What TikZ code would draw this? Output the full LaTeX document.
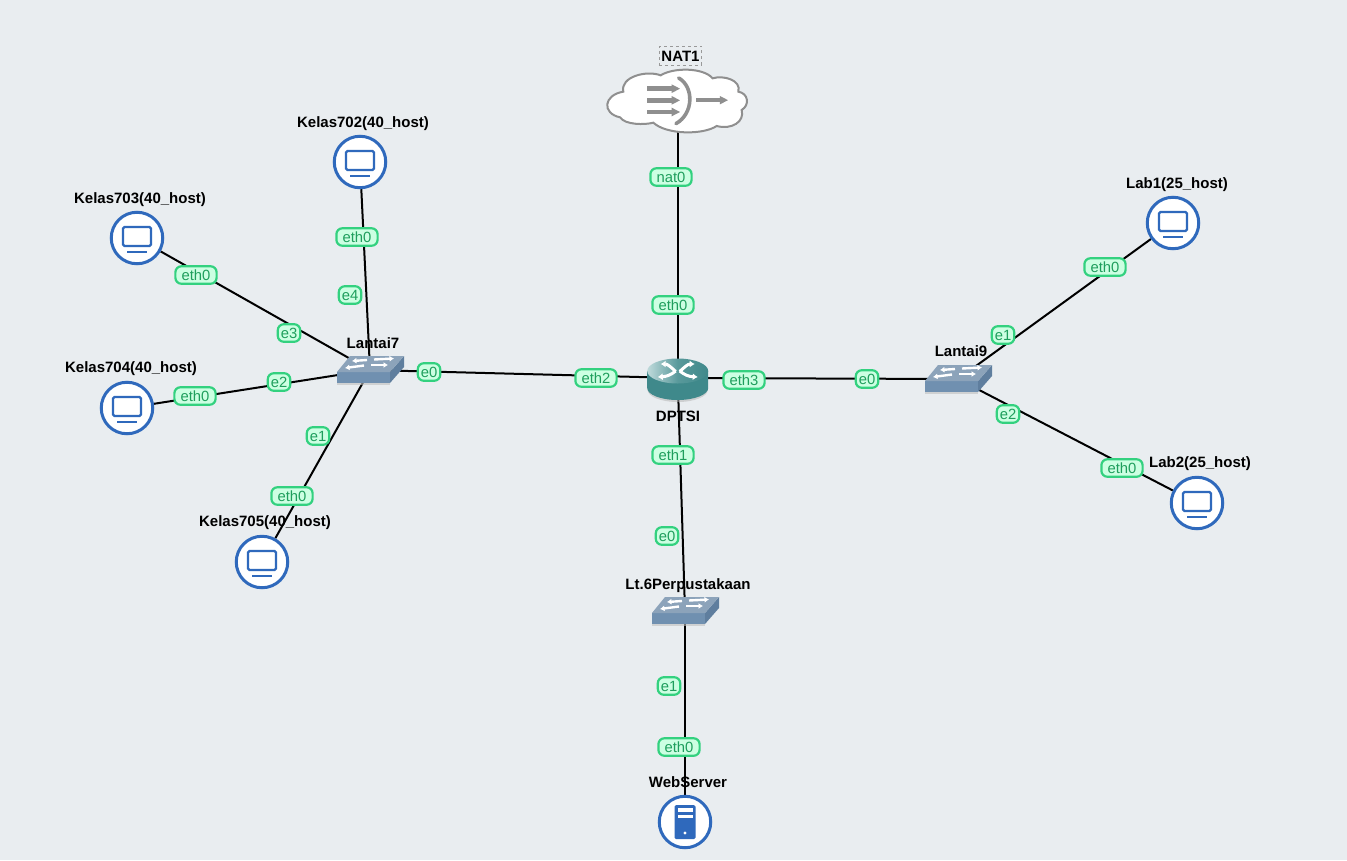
\documentclass[tikz,border=0pt]{standalone}
\usepackage{fontspec}
\setmainfont{Liberation Sans}
\usetikzlibrary{calc,shadings,arrows.meta}
\pgfdeclarelayer{bg}
\pgfsetlayers{bg,main}
\definecolor{canvas}{HTML}{E9EDF0}
\definecolor{hostblue}{HTML}{2F69BC}
\definecolor{portfill}{HTML}{CCFFE2}
\definecolor{portline}{HTML}{33D17F}
\definecolor{porttext}{HTML}{1E9E5C}
\definecolor{cloudgray}{HTML}{8F8F8F}
\definecolor{swtop}{HTML}{8CA3BA}
\definecolor{swfront}{HTML}{7090B0}
\definecolor{swside}{HTML}{5F7E9E}
\definecolor{rtteal}{HTML}{3F898B}
\definecolor{rtlight}{HTML}{BFDADB}
\tikzset{
  x=1pt,y=-1pt,
  hostnode/.style={circle,draw=hostblue,fill=white,line width=3pt,minimum size=51.5pt,inner sep=0pt},
  anchornode/.style={inner sep=0pt,minimum size=20pt},
  port/.style={rounded corners=6pt,draw=portline,fill=portfill,line width=2.2pt,text=porttext,
    font=\fontsize{14.8}{15}\selectfont,text height=10.5pt,text depth=0pt,inner ysep=3.5pt,inner xsep=3pt},
  wideport/.style={port,inner xsep=6.2pt},
  name label/.style={font=\fontsize{15}{16}\bfseries\selectfont,text=black,inner sep=0pt,text height=11pt,text depth=0pt},
  link/.style={line width=2pt,draw=black},
  iconline/.style={draw=hostblue,line width=2.2pt},
  swarrow/.style={draw=white,line width=2.4pt,-{Latex[length=4.5pt,width=6pt]}},
  rtarrow/.style={draw=white,line width=3pt,-{Latex[length=5pt,width=7pt]}}
}
\newcommand{\hosticon}[1]{\begin{scope}[shift={(#1)}]
  \draw[iconline,rounded corners=1.5pt] (-14,-11) rectangle (14,8);
  \draw[iconline] (-10,14) -- (10,14);
\end{scope}}
\newcommand{\switchicon}[1]{\begin{scope}[shift={(#1)}]
  \fill[black!25,opacity=.6] (-33,5) -- (20,5) -- (20,15) -- (-33,15) -- cycle;
  \fill[swfront] (-33,2) rectangle (20,13);
  \fill[swside] (20,2) -- (34,-14) -- (34,-3) -- (20,13) -- cycle;
  \fill[swtop] (-33,2) -- (-20,-14) -- (34,-14) -- (20,2) -- cycle;
  \draw[swarrow] (-3,-10) -- (-18,-9);
  \draw[swarrow] (-6,-4.5) -- (-25,-2);
  \draw[swarrow] (4,-10.5) -- (24,-11.5);
  \draw[swarrow] (1,-5) -- (18,-5);
\end{scope}}
\begin{document}
\begin{tikzpicture}
\useasboundingbox (0,0) rectangle (1347,860);
\begin{pgfonlayer}{bg}
  \fill[canvas] (0,0) rectangle (1347,860);
\end{pgfonlayer}

% devices
\node[hostnode] (k702) at (360,162) {};
\node[hostnode] (k703) at (137,238) {};
\node[hostnode] (k704) at (127,408) {};
\node[hostnode] (k705) at (262,562) {};
\node[hostnode] (lab1) at (1173,223) {};
\node[hostnode] (lab2) at (1197,503) {};
\node[hostnode] (web) at (685,822) {};
\node[anchornode] (lt7) at (370,370) {};
\node[anchornode] (lt9) at (958,379) {};
\node[anchornode] (lt6) at (685,611) {};
\node[anchornode] (dptsi) at (677.7,378) {};
\node[anchornode] (nat) at (677.7,105) {};

% connectors
\begin{pgfonlayer}{bg}
  \draw[link] (nat.center) -- (dptsi.center);
  \draw[link] (dptsi.center) -- (lt7.center);
  \draw[link] (dptsi.center) -- (lt9.center);
  \draw[link] (dptsi.center) -- (lt6.center);
  \draw[link] (lt6.center) -- (web.center);
  \draw[link] (k702) -- (lt7.center);
  \draw[link] (k703) -- (lt7.center);
  \draw[link] (k704) -- (lt7.center);
  \draw[link] (k705) -- (lt7.center);
  \draw[link] (lab1) -- (lt9.center);
  \draw[link] (lab2) -- (lt9.center);
\end{pgfonlayer}

% host icons
\hosticon{k702}\hosticon{k703}\hosticon{k704}\hosticon{k705}\hosticon{lab1}\hosticon{lab2}

% server icon
\begin{scope}[shift={(web)}]
  \fill[hostblue,rounded corners=1.5pt] (-10.5,-17) rectangle (10.5,17);
  \fill[white] (-7.5,-14) rectangle (7.5,-10.5);
  \fill[white] (-7.5,-7.5) rectangle (7.5,-4);
  \fill[white] (0,11) circle (1.6);
\end{scope}

% switches
\switchicon{lt7}\switchicon{lt9}\switchicon{lt6}

% router
\begin{scope}[shift={(dptsi)}]
  \fill[black!30,opacity=.5] (-30,-6) -- (-30,12) arc[start angle=180,end angle=0,x radius=30,y radius=12] -- (30,-6) -- cycle;
  \fill[rtteal] (-30.5,-7) -- (-30.5,10) arc[start angle=180,end angle=0,x radius=30.5,y radius=12] -- (30.5,-7) -- cycle;
  \shade[left color=rtlight,right color=rtteal,middle color=rtteal!80!rtlight] (0,-7) ellipse[x radius=30.5,y radius=12.5];
  \draw[rtarrow] (-2,-6.5) .. controls (-7,-11) and (-10,-14) .. (-17,-14);
  \draw[rtarrow] (2,-6.5) .. controls (7,-11) and (10,-14) .. (17,-14);
  \draw[rtarrow] (-2,-7) .. controls (-7,-3) and (-11,-1.5) .. (-20,-1);
  \draw[rtarrow] (2,-7) .. controls (7,-3) and (11,-1.5) .. (20,-1);
\end{scope}

% NAT cloud
\begin{scope}[shift={(590,30)},x=0.3333pt,y=-0.3333pt]
  \draw[draw=cloudgray,fill=white,line width=2pt]
    (100,185) .. controls (40,195) and (35,250) .. (90,262)
    .. controls (105,285) and (165,285) .. (190,278)
    .. controls (230,315) and (340,315) .. (380,288)
    .. controls (425,300) and (465,275) .. (455,240)
    .. controls (480,225) and (475,190) .. (445,185)
    .. controls (455,150) and (400,135) .. (368,145)
    .. controls (340,112) and (250,112) .. (212,136)
    .. controls (170,120) and (90,140) .. (100,185) -- cycle;
  \foreach \yy in {176,211,246}{
    \fill[cloudgray] (170,\yy-7) rectangle (248,\yy+7);
    \fill[cloudgray] (245,\yy-13) -- (270,\yy) -- (245,\yy+13) -- cycle;
  }
  \fill[cloudgray] (318,204) rectangle (392,217);
  \fill[cloudgray] (390,198) -- (414,210.5) -- (390,223) -- cycle;
  \draw[cloudgray,line width=3.6pt,line cap=round] (266,144) .. controls (312,170) and (312,250) .. (258,281);
\end{scope}

% device names
\node[name label] (n702) at (363,122) {Kelas702(40\_host)};
\node[name label] (n703) at (140,198) {Kelas703(40\_host)};
\node[name label] (n704) at (131,367) {Kelas704(40\_host)};
\node[name label] (n705) at (265,521) {Kelas705(40\_host)};
\node[name label] (nlab1) at (1177,183) {Lab1(25\_host)};
\node[name label] (nlab2) at (1200,462) {Lab2(25\_host)};
\node[name label] (nlt7) at (373,343) {Lantai7};
\node[name label] (nlt9) at (961,351) {Lantai9};
\node[name label] (ndptsi) at (678,416) {DPTSI};
\node[name label] (nlt6) at (688,584) {Lt.6Perpustakaan};
\node[name label] (nweb) at (688,782) {WebServer};
\node[name label,draw=gray!80,dashed,line width=.9pt,inner xsep=2pt,inner ysep=4pt] (nnat) at (680.5,55.5) {NAT1};

% port labels
\node[wideport] (p1) at (671,177) {nat0};
\node[wideport] (p2) at (673,305) {eth0};
\node[wideport] (p3) at (596,378) {eth2};
\node[wideport] (p4) at (744,380) {eth3};
\node[port] (p5) at (867,379) {e0};
\node[port] (p6) at (429,372) {e0};
\node[wideport] (p7) at (673,455) {eth1};
\node[port] (p8) at (667,536) {e0};
\node[port] (p9) at (669,686) {e1};
\node[wideport] (p10) at (679,747) {eth0};
\node[port] (p11) at (1003,335) {e1};
\node[wideport] (p12) at (1105,267) {eth0};
\node[port] (p13) at (1008,414) {e2};
\node[wideport] (p14) at (1122,468) {eth0};
\node[wideport] (p15) at (357,237) {eth0};
\node[port] (p16) at (350,295) {e4};
\node[wideport] (p17) at (196,275) {eth0};
\node[port] (p18) at (289,333) {e3};
\node[port] (p19) at (279,382) {e2};
\node[wideport] (p20) at (195,396) {eth0};
\node[port] (p21) at (318,436) {e1};
\node[wideport] (p22) at (292,496) {eth0};
\end{tikzpicture}
\end{document}
